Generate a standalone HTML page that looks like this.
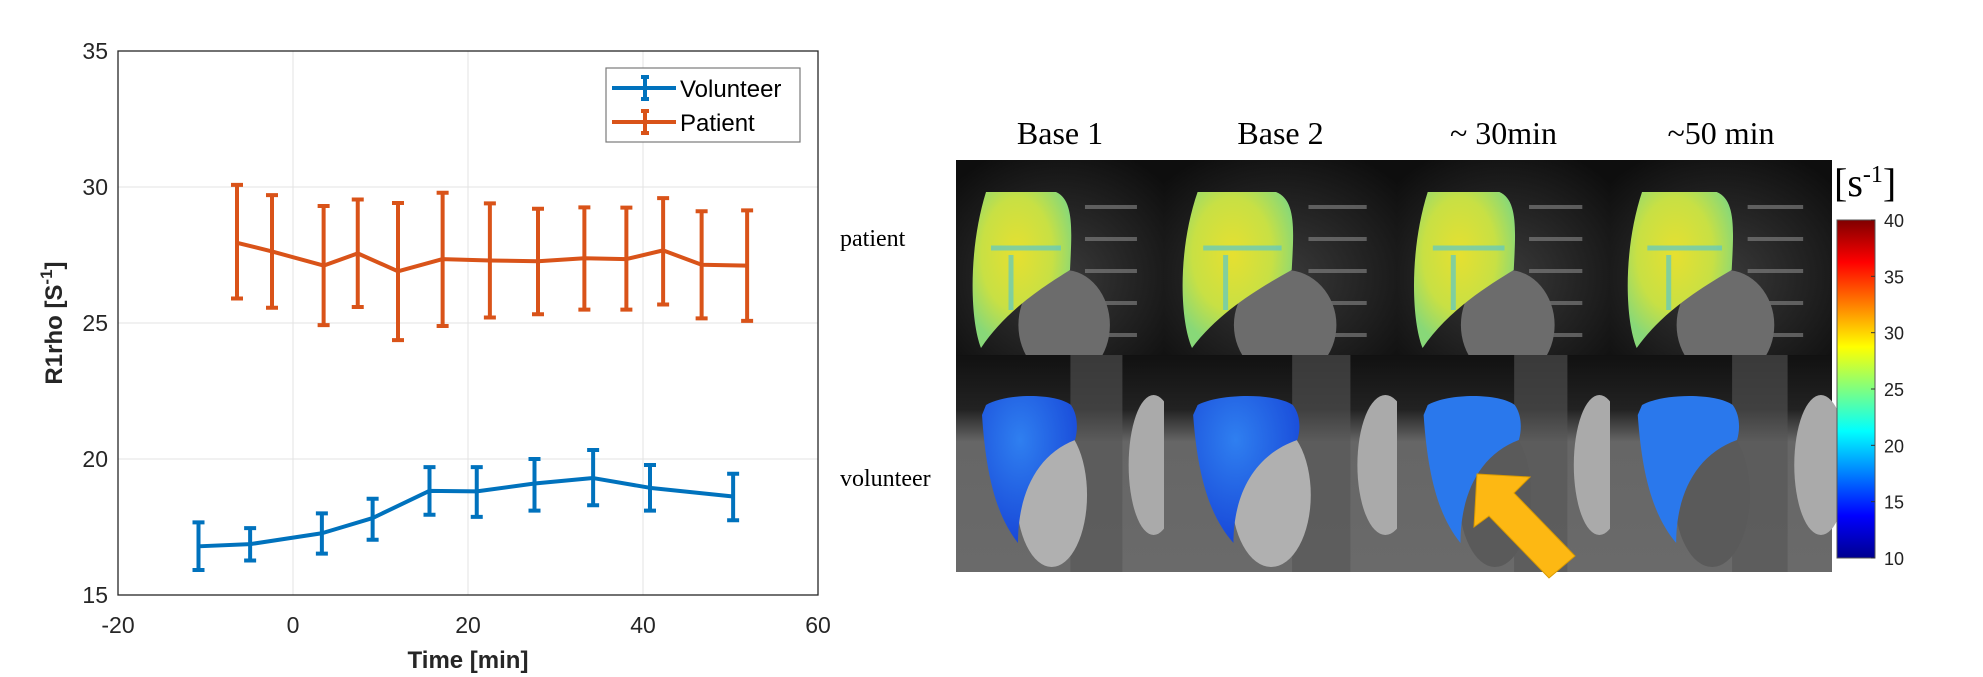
<!DOCTYPE html>
<html><head><meta charset="utf-8"><style>
html,body{margin:0;padding:0;background:#fff;overflow:hidden}
svg{display:block}
text{font-family:"Liberation Sans",Arial,sans-serif}
.serif{font-family:"Liberation Serif","Times New Roman",serif}
</style></head><body>
<svg id="root" width="1983" height="677" viewBox="0 0 1983 677" xmlns="http://www.w3.org/2000/svg">
<defs>
<linearGradient id="jet" x1="0" y1="1" x2="0" y2="0">
<stop offset="0" stop-color="#00008f"/><stop offset="0.125" stop-color="#0000ff"/><stop offset="0.375" stop-color="#00ffff"/><stop offset="0.625" stop-color="#ffff00"/><stop offset="0.875" stop-color="#ff0000"/><stop offset="1" stop-color="#800000"/>
</linearGradient>
<radialGradient id="bgP" cx="0.5" cy="0.6" r="0.7"><stop offset="0" stop-color="#3a3a3a"/><stop offset="1" stop-color="#0e0e0e"/></radialGradient>
<linearGradient id="bgV" x1="0" y1="0" x2="0" y2="1"><stop offset="0" stop-color="#111"/><stop offset="0.25" stop-color="#222"/><stop offset="0.4" stop-color="#666"/><stop offset="1" stop-color="#6a6a6a"/></linearGradient>
<radialGradient id="liverP" cx="0.45" cy="0.4" r="0.6"><stop offset="0" stop-color="#e6e030"/><stop offset="0.6" stop-color="#c8e044"/><stop offset="1" stop-color="#88d878"/></radialGradient>
<radialGradient id="liverV" cx="0.4" cy="0.3" r="0.7"><stop offset="0" stop-color="#2f7ff0"/><stop offset="1" stop-color="#1848d8"/></radialGradient>
</defs>
<g id="chart"></g>
<g id="images"></g>
</svg>
<script>
const volX = [-10.8, -4.9, 3.3, 9.1, 15.6, 21.0, 27.6, 34.3, 40.8, 50.3];
const volY = [16.79, 16.87, 17.27, 17.83, 18.83, 18.81, 19.1, 19.3, 18.94, 18.62];
const volHi = [17.67, 17.46, 18.0, 18.54, 19.7, 19.7, 20.0, 20.33, 19.78, 19.46];
const volLo = [15.92, 16.27, 16.52, 17.03, 17.95, 17.87, 18.1, 18.3, 18.1, 17.75];
const patX = [-6.4, -2.4, 3.5, 7.4, 12.0, 17.1, 22.5, 28.0, 33.3, 38.1, 42.3, 46.7, 51.9];
const patY = [27.95, 27.63, 27.11, 27.56, 26.9, 27.35, 27.3, 27.27, 27.38, 27.35, 27.67, 27.14, 27.11];
const patHi = [30.08, 29.7, 29.3, 29.54, 29.41, 29.79, 29.4, 29.2, 29.25, 29.24, 29.59, 29.11, 29.14];
const patLo = [25.9, 25.56, 24.92, 25.59, 24.37, 24.89, 25.2, 25.32, 25.49, 25.49, 25.68, 25.17, 25.08];
const xTicks = [-20, 0, 20, 40, 60];
const yTicks = [15, 20, 25, 30, 35];
const cbTicks = [10, 15, 20, 25, 30, 35, 40];

const NS = "http://www.w3.org/2000/svg";
const L = 118, R = 818, T = 51, B = 595;
const sx = v => L + (v - (-20)) / 80 * (R - L);
const sy = v => B - (v - 15) / 20 * (B - T);
function mk(tag, attrs, parent) {
  const e = document.createElementNS(NS, tag);
  for (const k in attrs) e.setAttribute(k, attrs[k]);
  parent.appendChild(e);
  return e;
}
const chart = document.getElementById('chart');
xTicks.forEach(t => {
  const g = mk('line', {x1: sx(t), x2: sx(t), y1: T, y2: B, stroke: '#e3e3e3', 'stroke-width': 1}, chart);
  
  
  const tk = mk('text', {x: sx(t), y: B + 38, 'text-anchor': 'middle', 'font-size': 23, fill: '#262626'}, chart);
  tk.textContent = t;
  
  
});
yTicks.forEach(t => {
  const g = mk('line', {x1: L, x2: R, y1: sy(t), y2: sy(t), stroke: '#e3e3e3', 'stroke-width': 1}, chart);
  
  
  const tk = mk('text', {x: L - 10, y: sy(t) + 8, 'text-anchor': 'end', 'font-size': 23, fill: '#262626'}, chart);
  tk.textContent = t;
  
  
});
const box = mk('rect', {x: L, y: T, width: R - L, height: B - T, fill: 'none', stroke: '#262626', 'stroke-width': 1.3}, chart);



function series(xs, ys, hi, lo, color, name) {
  const g = mk('g', {}, chart);
  
  
  xs.forEach((x, i) => {
    const eb = mk('path', {d: `M${sx(x)},${sy(hi[i])}V${sy(lo[i])}M${sx(x)-6},${sy(hi[i])}H${sx(x)+6}M${sx(x)-6},${sy(lo[i])}H${sx(x)+6}`, stroke: color, 'stroke-width': 4, fill: 'none'}, g);
    
    
  });
  const pl = mk('polyline', {points: xs.map((x, i) => sx(x) + ',' + sy(ys[i])).join(' '), stroke: color, 'stroke-width': 4, fill: 'none', 'stroke-linejoin': 'round'}, g);
  
  
}
series(patX, patY, patHi, patLo, '#D95319', 'patient');
series(volX, volY, volHi, volLo, '#0072BD', 'volunteer');

const xl = mk('text', {x: (L + R) / 2, y: 668, 'text-anchor': 'middle', 'font-size': 24, 'font-weight': 'bold', fill: '#262626'}, chart);
xl.textContent = 'Time [min]';


const yl = mk('text', {x: 0, y: 0, transform: `translate(62,${(T + B) / 2}) rotate(-90)`, 'text-anchor': 'middle', 'font-size': 24, 'font-weight': 'bold', fill: '#262626'}, chart);
yl.innerHTML = 'R1rho [S<tspan dy="-10" font-size="17">-1</tspan><tspan dy="10">]</tspan>';



const lg = mk('g', {}, chart);


mk('rect', {x: 606, y: 68, width: 194, height: 74, fill: '#fff', stroke: '#7a7a7a', 'stroke-width': 1.2}, lg);
[['Volunteer', '#0072BD', 88], ['Patient', '#D95319', 122]].forEach(([n, c, y]) => {
  const e = mk('g', {}, lg);
  
  
  mk('path', {d: `M612,${y}H676M645,${y-11}V${y+11}M641,${y-11}H649M641,${y+11}H649`, stroke: c, 'stroke-width': 4, fill: 'none'}, e);
  const t = mk('text', {x: 680, y: y + 9, 'font-size': 24, fill: '#000'}, e);
  t.textContent = n;
});

const img = document.getElementById('images');
const cols = [[956, 1164], [1164, 1397], [1397, 1610], [1610, 1832]];
const titles = ['Base 1', 'Base 2', '~ 30min', '~50 min'];
const rowTop = 160, rowMid = 355, rowBot = 572;
cols.forEach(([a, b], i) => {
  const w = b - a;
  const pc = mk('g', {}, img);
  
  
  mk('rect', {x: a, y: rowTop, width: w, height: rowMid - rowTop, fill: 'url(#bgP)'}, pc);
  for (let k = 0; k < 5; k++) mk('rect', {x: a + w * 0.62, y: rowTop + 45 + k * 32, width: w * 0.25, height: 4, fill: '#888', opacity: 0.6}, pc);
  mk('ellipse', {cx: a + w * 0.52, cy: rowTop + 165, rx: w * 0.22, ry: 55, fill: '#6c6c6c'}, pc);
  const s = w / 208, ox = a, oy = rowTop;
  const pt = (x, y) => (ox + x * s) + ',' + (oy + y);
  mk('path', {d: `M${pt(30,32)} L${pt(100,32)} C${pt(118,40)} ${pt(116,70)} ${pt(114,110)} C${pt(90,125)} ${pt(50,150)} ${pt(25,188)} C${pt(14,160)} ${pt(12,90)} ${pt(30,32)}Z`, fill: 'url(#liverP)'}, pc);
  mk('path', {d: `M${pt(35,88)} L${pt(105,88)} M${pt(55,95)} L${pt(55,150)}`, stroke: '#5cc8c8', 'stroke-width': 5, opacity: 0.7, fill: 'none'}, pc);
  const vc = mk('g', {}, img);
  
  
  mk('rect', {x: a, y: rowMid, width: w, height: rowBot - rowMid, fill: 'url(#bgV)'}, vc);
  mk('rect', {x: a + w * 0.55, y: rowMid, width: w * 0.25, height: rowBot - rowMid, fill: '#555', opacity: 0.6}, vc);
  mk('ellipse', {cx: a + w * 0.46, cy: rowMid + 140, rx: w * 0.17, ry: 72, fill: i >= 2 ? '#5a5a5a' : '#b0b0b0'}, vc);
  mk('ellipse', {cx: a + w * 0.95, cy: rowMid + 110, rx: w * 0.12, ry: 70, fill: '#aaa'}, vc);
  const qt = (x, y) => (ox + x * s) + ',' + (rowMid + y);
  mk('path', {d: `M${qt(30,50)} C${qt(50,38)} ${qt(100,38)} ${qt(115,50)} C${qt(122,60)} ${qt(122,75)} ${qt(119,85)} C${qt(80,100)} ${qt(62,140)} ${qt(62,188)} C${qt(40,160)} ${qt(30,120)} ${qt(26,60)}Z`, fill: i >= 2 ? '#2a78ec' : 'url(#liverV)'}, vc);
  const t = mk('text', {x: (a + b) / 2, y: 144, 'text-anchor': 'middle', 'font-size': 32, class: 'serif', fill: '#000'}, img);
  t.textContent = titles[i];
  
  
});
const rp = mk('text', {x: 840, y: 246, 'font-size': 24, class: 'serif', fill: '#000'}, img);
rp.textContent = 'patient';


const rv = mk('text', {x: 840, y: 486, 'font-size': 24, class: 'serif', fill: '#000'}, img);
rv.textContent = 'volunteer';



const ar = mk('polygon', {points: '1477,474 1530,477 1514,493 1575,556 1549,578 1489,516 1474,527', fill: '#FDB813', stroke: '#d99a00', 'stroke-width': 1}, img);



const cbT = 220, cbB = 558;
const cy = v => cbB - (v - 10) / 30 * (cbB - cbT);
const cb = mk('rect', {x: 1837, y: cbT, width: 38, height: cbB - cbT, fill: 'url(#jet)', stroke: '#555', 'stroke-width': 1}, img);


cbTicks.forEach(t => {
  mk('line', {x1: 1871, x2: 1875, y1: cy(t), y2: cy(t), stroke: '#333'}, img);
  const tl = mk('text', {x: 1884, y: cy(t) + 7, 'font-size': 18, fill: '#222'}, img);
  tl.textContent = t;
  
  
});
const cu = mk('text', {x: 1834, y: 196, 'font-size': 40, class: 'serif', fill: '#000'}, img);
cu.innerHTML = '[s<tspan dy="-14" font-size="24">-1</tspan><tspan dy="14">]</tspan>';


</script>
</body></html>
